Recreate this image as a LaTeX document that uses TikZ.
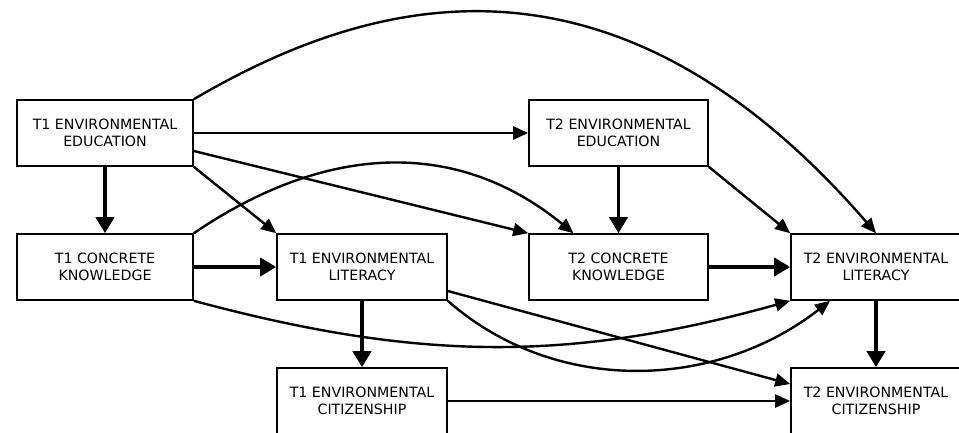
\documentclass[tikz,border=0pt]{standalone}
\usepackage{fontspec}
\setmainfont{DejaVu Sans}
\usetikzlibrary{arrows.meta,calc}
\begin{document}
\begin{tikzpicture}[x=1pt,y=-1pt,
  box/.style={draw, line width=1.6pt, minimum height=66pt, inner sep=0pt, align=center, font=\fontsize{14.2}{17}\selectfont},
  edge/.style={line width=2.4pt, -{Triangle[length=15pt,width=13pt]}},
  thickedge/.style={line width=3.8pt, -{Triangle[length=16pt,width=18pt]}}]
\useasboundingbox (0,0) rectangle (959,432);
\clip (0,0) rectangle (959,432);
\node[box, minimum width=176pt] (t1ee) at (105,133) {T1 ENVIRONMENTAL\\EDUCATION};
\node[box, minimum width=179pt] (t2ee) at (618.5,133) {T2 ENVIRONMENTAL\\EDUCATION};
\node[box, minimum width=176pt] (t1ck) at (105,267) {T1 CONCRETE\\KNOWLEDGE};
\node[box, minimum width=170pt] (t1el) at (362,267) {T1 ENVIRONMENTAL\\LITERACY};
\node[box, minimum width=179pt] (t2ck) at (618.5,267) {T2 CONCRETE\\KNOWLEDGE};
\node[box, minimum width=170pt] (t2el) at (876,267) {T2 ENVIRONMENTAL\\LITERACY};
\node[box, minimum width=170pt] (t1ec) at (362,401) {T1 ENVIRONMENTAL\\CITIZENSHIP};
\node[box, minimum width=170pt] (t2ec) at (876,401) {T2 ENVIRONMENTAL\\CITIZENSHIP};

\draw[thickedge] (t1ee.south) -- (t1ck.north);
\draw[edge] (t1ee.east) -- (t2ee.west);
\draw[edge] ([yshift=-18pt]t1ee.east) -- (t2ck.north west);
\draw[edge] (t1ee.south east) -- (t1el.north west);
\draw[edge] (t1ee.north east) .. controls +(174,-102) and +(-265,-306) .. (t2el.north);
\draw[edge] (t1ck.north east) .. controls +(128,-87) and +(-120,-98) .. ([xshift=-45pt]t2ck.north);
\draw[thickedge] (t1ck.east) -- (t1el.west);
\draw[edge] (t1ck.south east) .. controls +(223,60) and +(-222,62) .. (t2el.south west);
\draw[thickedge] (t1el.south) -- (t1ec.north);
\draw[edge] ([yshift=-24pt]t1el.east) -- ([yshift=17pt]t2ec.west);
\draw[edge] (t1el.south east) .. controls +(108,95) and +(-114,89) .. ([xshift=-46pt]t2el.south);
\draw[edge] (t1ec.east) -- (t2ec.west);
\draw[thickedge] (t2ee.south) -- (t2ck.north);
\draw[edge] (t2ee.south east) -- (t2el.north west);
\draw[thickedge] (t2ck.east) -- (t2el.west);
\draw[thickedge] (t2el.south) -- (t2ec.north);
\end{tikzpicture}
\end{document}
